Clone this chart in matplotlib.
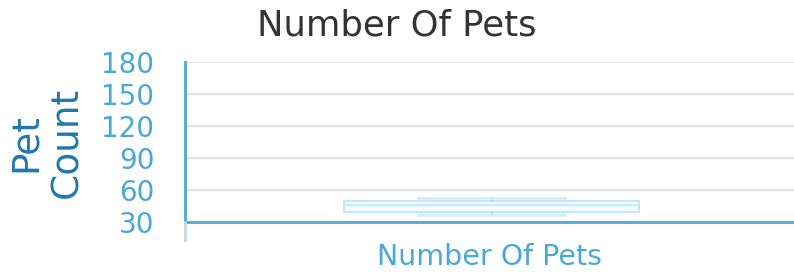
import matplotlib.pyplot as plt
import numpy as np

# box statistics
category = 'Number Of Pets'
whislo = 36.3
q1 = 39.0
med = 46.0
q3 = 50.0
whishi = 52.5
yticks = [30, 60, 90, 120, 150, 180]

blue = '#4aa8d8'

fig = plt.figure(figsize=(7.94, 2.72), dpi=100)
ax = fig.add_axes([185/794, 32/272, 609/794, 178/272])

stats = [{'whislo': whislo, 'q1': q1, 'med': med, 'q3': q3, 'whishi': whishi,
          'label': category}]
ax.bxp(stats, positions=[1], widths=0.5, patch_artist=True, showfliers=False,
       boxprops={'facecolor': '#f5fcff', 'edgecolor': '#c0e8fb', 'linewidth': 1.5},
       whiskerprops={'color': '#a6dcf7', 'linewidth': 1.5},
       capprops={'color': '#d2eefb', 'linewidth': 2},
       medianprops={'color': '#c5eafb', 'linewidth': 1.5})

ax.set_xlim(0.48, 1.513)
ax.set_ylim(13.1, 180)
ax.set_yticks(yticks)
ax.set_xticks([])
for y in yticks[1:]:
    ax.axhline(y, color='#e3e3e3', lw=1.5, zorder=0)
ax.axhline(30, color=blue, lw=2, zorder=3)

for s in ['top', 'right', 'bottom']:
    ax.spines[s].set_visible(False)
ax.spines['left'].set_bounds(30, 180)
ax.spines['left'].set_color(blue)
ax.spines['left'].set_linewidth(2)
ax.plot([0.48, 0.48], [13.1, 30], color='#c8d4e8', lw=2, clip_on=False, zorder=3)

ax.tick_params(axis='y', length=0, pad=22, labelsize=20, labelcolor=blue)
ax.set_xlabel(category, fontsize=20.5, color=blue, labelpad=2)
ax.set_ylabel('Pet\nCount', fontsize=27, color='#2178ae')
ax.yaxis.set_label_coords(-0.164, 0.55)

fig.text(0.5, 0.905, 'Number Of Pets', ha='center', va='center', fontsize=25.5, color='#333333')

fig.savefig('out.png', dpi=100)
